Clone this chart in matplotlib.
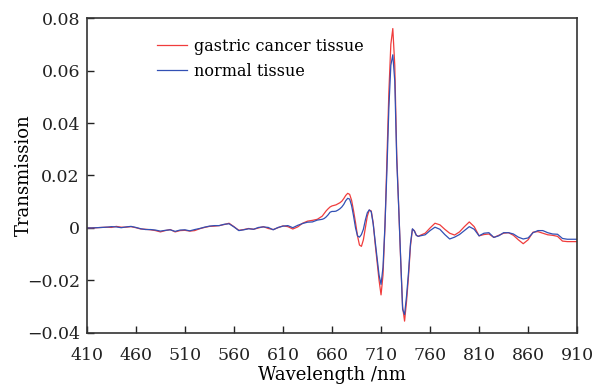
import matplotlib
matplotlib.use("Agg")
import matplotlib.pyplot as plt
import numpy as np

plt.rcParams['font.family'] = ['DejaVu Serif']
plt.rcParams['mathtext.fontset'] = 'dejavuserif'

# wavelength grid (nm)
wl = list(range(410, 651, 5)) + list(range(652, 751, 2)) + list(range(755, 911, 5))

# transmission, units of 1e-3
cancer = [
    0, 0, 0.1, 0.2, 0.3, 0.2, 0.6, 0.3, 0.3, 0.5,
    0.1, -0.4, -0.5, -0.7, -1.0, -1.5, -1.0, -0.6, -1.5, -1.0,
    -0.9, -1.2, -1.0, -0.3, 0.2, 0.6, 0.7, 0.9, 1.3, 1.8,
    0.5, -0.9, -0.6, -0.2, -0.5, 0.0, 0.5, -0.2, -0.6, 0.1,
    0.8, 0.5, -0.4, 0.4, 1.8, 2.6, 2.9, 3.3, 4.5,
    # 652 .. 750 step 2
    5.5, 6.5, 7.3, 8.0, 8.4, 8.6, 8.8, 9.2, 9.6, 10.2,
    11.2, 12.4, 13.2, 12.8, 10.5, 6.5, 2.0, -3.0, -6.5, -7.0,
    -4.5, 0.0, 4.5, 6.8, 6.5, 2.0, -6.0, -13.0, -20.0, -25.5,
    -18.0, 0.5, 26.0, 52.0, 70.0, 76.0, 62.0, 28.0, 8.0, -12.0,
    -30.0, -35.5, -28.0, -18.5, -7.0, -0.5, -1.0, -2.8, -3.2, -2.8,
    # 755 .. 910 step 5
    -2.0, 0.0, 1.8, 1.2, -0.5, -2.0, -2.7, -1.5, 0.5, 2.3,
    0.5, -3.0, -2.5, -2.3, -3.6, -2.8, -2.0, -1.8, -2.8, -4.5,
    -6.0, -4.5, -1.6, -1.4, -2.0, -2.6, -2.8, -3.2, -5.0, -5.2,
    -5.2, -5.2,
]
normal = [
    0, 0, 0.1, 0.2, 0.3, 0.5, 0.4, 0.1, 0.4, 0.6,
    0.2, -0.3, -0.6, -0.6, -0.8, -1.2, -0.9, -0.7, -1.3, -0.8,
    -0.7, -1.1, -0.6, -0.2, 0.3, 0.7, 0.9, 0.9, 1.4, 1.6,
    0.4, -1.0, -0.7, -0.3, -0.5, 0.2, 0.4, 0.2, -0.7, 0.2,
    0.7, 0.9, 0.1, 1.0, 1.7, 2.2, 2.3, 3.0, 3.3,
    # 652 .. 750 step 2
    3.6, 4.2, 5.0, 6.0, 6.3, 6.3, 6.4, 6.8, 7.3, 8.0,
    9.0, 10.4, 11.3, 11.0, 8.5, 4.5, 0.0, -3.0, -3.5, -2.5,
    -0.5, 3.0, 5.8, 6.9, 6.2, 1.5, -5.0, -11.5, -18.0, -21.5,
    -15.0, 1.0, 22.0, 46.0, 62.0, 66.0, 56.0, 26.0, 8.0, -12.0,
    -31.0, -33.0, -26.0, -17.0, -6.0, -0.3, -1.2, -2.8, -3.2, -3.0,
    # 755 .. 910 step 5
    -2.6, -1.0, 0.3, -0.5, -2.5, -4.2, -3.5, -2.5, -1.0, 0.5,
    -0.5, -3.0, -2.0, -1.8, -3.6, -3.0, -1.8, -1.8, -2.3, -3.5,
    -4.2, -3.8, -1.8, -1.0, -1.0, -1.8, -2.3, -2.4, -4.0, -4.3,
    -4.3, -4.3,
]

xticks = list(range(410, 911, 50))
yticks = [-0.04, -0.02, 0, 0.02, 0.04, 0.06, 0.08]
ytick_labels = ['\u22120.04', '\u22120.02', '0', '0.02', '0.04', '0.06', '0.08']

fig = plt.figure(figsize=(5.95, 3.84), dpi=100)
ax = fig.add_axes([0.146, 0.133, 0.824, 0.820])

ax.plot(wl, np.array(cancer) * 1e-3, color='#f03c3c', lw=0.9, label='gastric cancer tissue')
ax.plot(wl, np.array(normal) * 1e-3, color='#3250b4', lw=0.9, label='normal tissue')

ax.set_xlim(410, 910)
ax.set_ylim(-0.04, 0.08)
ax.set_xticks(xticks)
ax.set_yticks(yticks)
ax.set_yticklabels(ytick_labels)
ax.tick_params(direction='in', length=5, width=1, labelsize=12.5, colors='#222222')
ax.tick_params(axis='x', pad=10)
ax.tick_params(axis='y', pad=5)
for s in ax.spines.values():
    s.set_linewidth(1.2)
    s.set_color('#333333')

ax.set_xlabel('Wavelength /nm', fontsize=13)
ax.set_ylabel('Transmission', fontsize=13)
ax.xaxis.set_label_coords(0.5, -0.105)
ax.yaxis.set_label_coords(-0.11, 0.5)

ax.legend(loc='upper left', bbox_to_anchor=(0.13, 0.958), frameon=False,
          fontsize=11.5, handlelength=1.9, handletextpad=0.4, labelspacing=0.5,
          borderaxespad=0)

fig.savefig('out.png', dpi=100)
